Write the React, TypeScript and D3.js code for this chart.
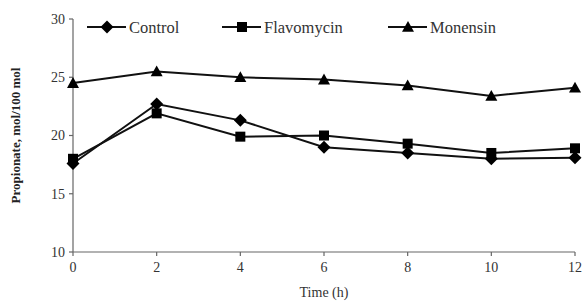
import React from "react";
import * as d3 from "d3";

const times = [0, 2, 4, 6, 8, 10, 12];
const control = [17.6, 22.7, 21.3, 19.0, 18.5, 18.0, 18.1];
const flavomycin = [18.0, 21.9, 19.9, 20.0, 19.3, 18.5, 18.9];
const monensin = [24.5, 25.5, 25.0, 24.8, 24.3, 23.4, 24.1];
const yTicks = [10, 15, 20, 25, 30];

const series = [
  { name: "Control", values: control, shape: "diamond", legendX: 87 },
  { name: "Flavomycin", values: flavomycin, shape: "square", legendX: 222 },
  { name: "Monensin", values: monensin, shape: "triangle", legendX: 388 },
];

const width = 585;
const height = 302;
const marginLeft = 73;
const marginRight = 10;
const marginTop = 19;
const marginBottom = 50;

const font = "'Liberation Serif', 'Times New Roman', serif";

function Marker({ shape, cx, cy }: { shape: string; cx: number; cy: number }) {
  if (shape === "diamond") {
    const s = 6.5;
    return (
      <path
        d={`M${cx},${cy - s}L${cx + s},${cy}L${cx},${cy + s}L${cx - s},${cy}Z`}
        fill="#000"
      />
    );
  }
  if (shape === "square") {
    const s = 5;
    return <rect x={cx - s} y={cy - s} width={s * 2} height={s * 2} fill="#000" />;
  }
  const s = 6;
  return (
    <path
      d={`M${cx},${cy - s}L${cx + s},${cy + s * 0.8}L${cx - s},${cy + s * 0.8}Z`}
      fill="#000"
    />
  );
}

export default function App() {
  const x = d3
    .scaleLinear()
    .domain([0, 12])
    .range([marginLeft, width - marginRight]);
  const y = d3
    .scaleLinear()
    .domain([10, 30])
    .range([height - marginBottom, marginTop]);

  const line = d3
    .line<number>()
    .x((d, i) => x(times[i]))
    .y((d) => y(d));

  return (
    <svg
      width={width}
      height={height}
      style={{ position: "absolute", left: 0, top: 0, background: "#fff" }}
      fontFamily={font}
    >
      {/* axes */}
      <g stroke="#666" strokeWidth={1.2}>
        <line x1={x(0)} x2={x(0)} y1={y(30)} y2={y(10)} />
        <line x1={x(0)} x2={x(12)} y1={y(10)} y2={y(10)} />
        {yTicks.map((t) => (
          <line key={t} x1={x(0) - 4} x2={x(0)} y1={y(t)} y2={y(t)} />
        ))}
        {times.map((t) => (
          <line key={t} x1={x(t)} x2={x(t)} y1={y(10)} y2={y(10) + 4} />
        ))}
      </g>
      <g fill="#333" fontSize={14}>
        {yTicks.map((t) => (
          <text key={t} x={x(0) - 8} y={y(t)} dy="0.35em" textAnchor="end">
            {t}
          </text>
        ))}
        {times.map((t) => (
          <text key={t} x={x(t)} y={y(10) + 20} textAnchor="middle">
            {t}
          </text>
        ))}
      </g>
      <text x={324} y={297} textAnchor="middle" fontSize={14} fill="#333">
        Time (h)
      </text>
      <text
        transform={`translate(20,${(y(30) + y(10)) / 2}) rotate(-90)`}
        textAnchor="middle"
        fontSize={13}
        fontWeight="bold"
        fill="#222"
      >
        Propionate, mol/100 mol
      </text>

      {/* series */}
      {series.map((s) => (
        <g key={s.name}>
          <path d={line(s.values) || ""} fill="none" stroke="#111" strokeWidth={2} />
          {s.values.map((v, i) => (
            <Marker key={i} shape={s.shape} cx={x(times[i])} cy={y(v)} />
          ))}
        </g>
      ))}

      {/* legend */}
      {series.map((s) => (
        <g key={s.name}>
          <line
            x1={s.legendX}
            x2={s.legendX + 39}
            y1={27}
            y2={27}
            stroke="#111"
            strokeWidth={2}
          />
          <Marker shape={s.shape} cx={s.legendX + 20} cy={27} />
          <text x={s.legendX + 42} y={27} dy="0.35em" fontSize={16.5} fill="#333">
            {s.name}
          </text>
        </g>
      ))}
    </svg>
  );
}
